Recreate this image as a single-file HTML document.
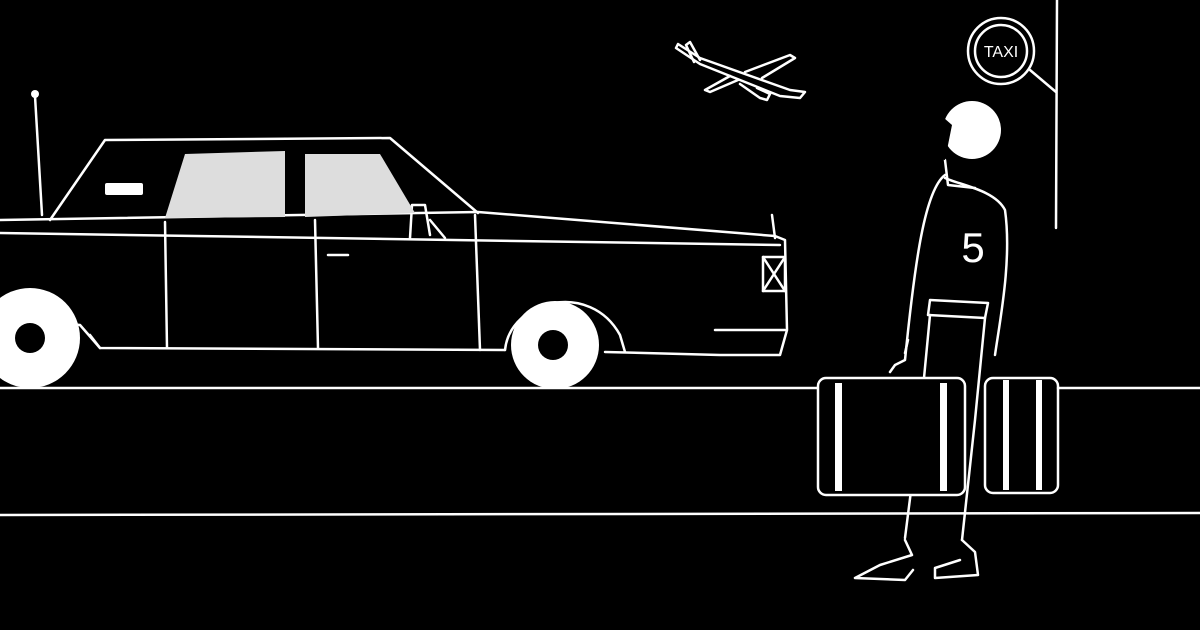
<!DOCTYPE html>
<html><head><meta charset="utf-8"><style>
html,body{margin:0;padding:0;background:#000;}
svg{display:block}
</style></head><body>
<svg width="1200" height="630" viewBox="0 0 1200 630" xmlns="http://www.w3.org/2000/svg">
<rect width="1200" height="630" fill="#000"/>
<g fill="none" stroke="#fff" stroke-width="2.5" stroke-linecap="round" stroke-linejoin="round">
<!-- road lines -->
<line x1="0" y1="388" x2="820" y2="388"/>
<line x1="1058" y1="388" x2="1200" y2="388"/>
<line x1="0" y1="515" x2="1200" y2="513"/>
<!-- pole + taxi sign -->
<line x1="1057" y1="0" x2="1056" y2="228"/>
<line x1="1030" y1="70" x2="1056" y2="92"/>
<circle cx="1001" cy="51" r="33"/>
<circle cx="1001" cy="51" r="26"/>
<!-- antenna -->
<line x1="35" y1="96" x2="42" y2="215"/>
<!-- car roof -->
<path d="M50,220 L105,140 L390,138 L478,213"/>
<!-- body -->
<path d="M0,220 L478,212 L775,236 L785,240 L787,330 L780,355 L720,355 L605,352"/>
<path d="M0,233 L780,245"/>
<path d="M505,350 L100,348 L80,325 L0,318"/>
<path d="M100,348 L90,335"/>
<path d="M505,350 C510,300 590,280 620,335 L625,352"/>
<path d="M715,330 L785,330"/>
<line x1="165" y1="222" x2="167" y2="348"/>
<line x1="315" y1="220" x2="318" y2="348"/>
<line x1="475" y1="215" x2="480" y2="350"/>
<line x1="772" y1="215" x2="775" y2="238"/>
<rect x="763" y="257" width="22" height="34"/>
<path d="M763,257 L785,291 M785,257 L763,291"/>
<line x1="328" y1="255" x2="348" y2="255"/>
<path d="M410,238 L412,205 L425,205 L430,235 M430,220 L445,238"/>
<!-- airplane -->
<path d="M678,44 L700,58 L790,90 L805,92 L800,98 L780,96 L700,64 L676,48 Z"/>
<path d="M745,72 L790,55 L795,58 L762,78 M740,84 L760,98 L767,100 L770,94 L757,88 M700,60 L690,42 L686,45 L694,62 M730,76 L705,90 L710,92 L738,80"/>
<!-- person body -->
<path d="M945,175 C925,190 915,260 905,360 L895,365 L890,372"/>
<path d="M945,178 C960,185 995,190 1005,210 C1012,260 1000,320 995,355"/>
<path d="M930,300 L988,303 L985,318 L928,315 Z"/>
<path d="M930,315 L920,420 L905,538 M985,318 L975,420 L962,540"/>
<path d="M945,160 L948,185 L975,188"/>
<path d="M905,540 L912,555 L880,565 L855,578 L905,580 L913,570 M962,540 L975,552 L978,575 L935,578 L935,568 L960,560"/>
<line x1="905" y1="353" x2="908" y2="340" />
<!-- suitcases -->
<rect x="985" y="378" width="73" height="115" rx="8"/>
<rect x="818" y="378" width="147" height="117" rx="8" fill="#000"/>
</g>
<!-- fills -->
<g fill="#fff">
<circle cx="35" cy="94" r="4"/>
<path d="M165,218 L185,154 L285,151 L285,217 Z" fill="#ddd"/>
<path d="M305,217 L305,154 L380,154 L415,213 Z" fill="#ddd"/>
<rect x="105" y="183" width="38" height="12" rx="2"/>
<circle cx="555" cy="345" r="44"/>
<circle cx="30" cy="338" r="50"/>
<circle cx="972" cy="130" r="29"/>
<rect x="835" y="383" width="7" height="108"/>
<rect x="940" y="383" width="7" height="108"/>
<rect x="1003" y="380" width="6" height="110"/>
<rect x="1036" y="380" width="6" height="110"/>
</g>
<g fill="#000">
<circle cx="553" cy="345" r="15"/>
<circle cx="30" cy="338" r="15"/>
<path d="M944,118 L952,125 L945,160 L935,158 L938,140 Z"/>
</g>
<text x="1001" y="57" font-family="Liberation Sans, sans-serif" font-size="16" fill="#fff" text-anchor="middle">TAXI</text>
<text x="973" y="262" font-family="Liberation Sans, sans-serif" font-size="42" fill="#fff" text-anchor="middle">5</text>
</svg>
</body></html>
